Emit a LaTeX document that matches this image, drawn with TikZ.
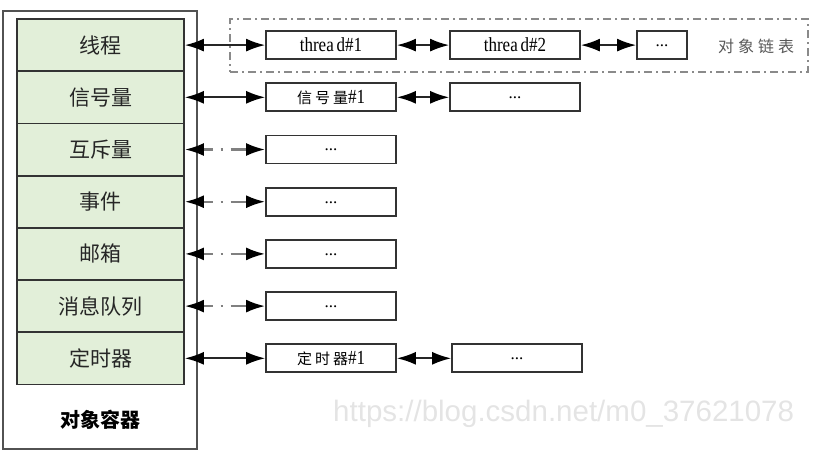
\documentclass[tikz,border=0pt]{standalone}
\usepackage{fontspec}
\setmainfont{Liberation Serif}
\newfontfamily\cjk{Noto Sans CJK SC}
\newfontfamily\wmfont{Liberation Sans}
\usetikzlibrary{arrows.meta}
\definecolor{rowgreen}{HTML}{E2EFD9}
\definecolor{edge}{HTML}{333333}
\definecolor{framegray}{HTML}{8A8A8A}
\definecolor{wm}{HTML}{E4E4E4}
\tikzset{
  rowbox/.style={draw=edge, line width=1.8pt, fill=rowgreen, minimum width=167pt, minimum height=52.2pt, inner sep=0pt, font=\cjk\fontsize{21}{21}\selectfont, text=black!85},
  objbox/.style={draw=edge, line width=1.8pt, fill=white, minimum width=130pt, minimum height=28pt, inner sep=0pt, font=\fontsize{17}{17}\selectfont},
  smallbox/.style={objbox, minimum width=50pt},
  biarrow/.style={draw=black!85, line width=1.8pt, {Latex[length=19pt,width=13pt,color=black]}-{Latex[length=19pt,width=13pt,color=black]}},
  dasharrow/.style={biarrow, draw=black!50, line width=2.4pt, dash pattern=on 10pt off 8pt on 2pt off 8pt on 30pt},
  listframe/.style={draw=framegray, line width=1.3pt, dash pattern=on 8pt off 4pt on 2pt off 4pt, minimum width=578pt, minimum height=53pt, inner sep=0pt},
  containerbox/.style={draw=edge!85, line width=1.8pt, fill=white, minimum width=194pt, minimum height=438pt, inner sep=0pt}
}
\newcommand{\latn}[1]{\scalebox{0.85}[1]{\fontsize{20}{20}\selectfont #1}}
\newcommand{\mydots}{\raisebox{-3pt}{...}}
\begin{document}
\begin{tikzpicture}[x=1pt,y=-1pt]
\useasboundingbox (0,0) rectangle (813,456);
% watermark
\node[anchor=west, text=wm, font=\wmfont\fontsize{29.5}{29.5}\selectfont, inner sep=0pt] (wmark) at (333,414) {https://blog.csdn.net/m0\_37621078};
% container
\node[containerbox] (cont) at (100,230) {};
\node[font=\cjk\bfseries\fontsize{20}{20}\selectfont] (conttitle) at (100,420) {对象容器};
% rows
\node[rowbox] (r1) at (100.5,45.1) {线程};
\node[rowbox] (r2) at (100.5,97.3) {信号量};
\node[rowbox] (r3) at (100.5,149.5) {互斥量};
\node[rowbox] (r4) at (100.5,201.7) {事件};
\node[rowbox] (r5) at (100.5,253.9) {邮箱};
\node[rowbox] (r6) at (100.5,306.1) {消息队列};
\node[rowbox] (r7) at (100.5,358.3) {定时器};
% list frame
\node[listframe] (lst) at (519,45.5) {};
\node[font=\cjk\fontsize{16}{16}\selectfont, text=black!65] (lstlabel) at (756,46) {对\hspace{4pt}象\hspace{4pt}链\hspace{4pt}表};
% object boxes
\node[objbox] (a1) at (331,45.1) {\latn{threa\,d\#1}};
\node[objbox] (b1) at (515,45.1) {\latn{threa\,d\#2}};
\node[smallbox] (c1) at (662,45.1) {\mydots};
\node[objbox] (a2) at (331,97.3) {{\cjk\fontsize{15}{15}\selectfont 信\hspace{3pt}号\hspace{3pt}量}\latn{\#1}};
\node[objbox] (b2) at (515,97.3) {\mydots};
\node[objbox] (a3) at (331,149.5) {\mydots};
\node[objbox] (a4) at (331,201.7) {\mydots};
\node[objbox] (a5) at (331,253.9) {\mydots};
\node[objbox] (a6) at (331,306.1) {\mydots};
\node[objbox] (a7) at (331,358.3) {{\cjk\fontsize{15}{15}\selectfont 定\hspace{3pt}时\hspace{3pt}器}\latn{\#1}};
\node[objbox] (b7) at (517,358.3) {\mydots};
% connectors
\draw[biarrow] (r1.east) -- (a1.west);
\draw[biarrow] (a1.east) -- (b1.west);
\draw[biarrow] (b1.east) -- (c1.west);
\draw[biarrow] (r2.east) -- (a2.west);
\draw[biarrow] (a2.east) -- (b2.west);
\draw[dasharrow] (r3.east) -- (a3.west);
\draw[dasharrow] (r4.east) -- (a4.west);
\draw[dasharrow] (r5.east) -- (a5.west);
\draw[dasharrow] (r6.east) -- (a6.west);
\draw[biarrow] (r7.east) -- (a7.west);
\draw[biarrow] (a7.east) -- (b7.west);
\end{tikzpicture}
\end{document}
